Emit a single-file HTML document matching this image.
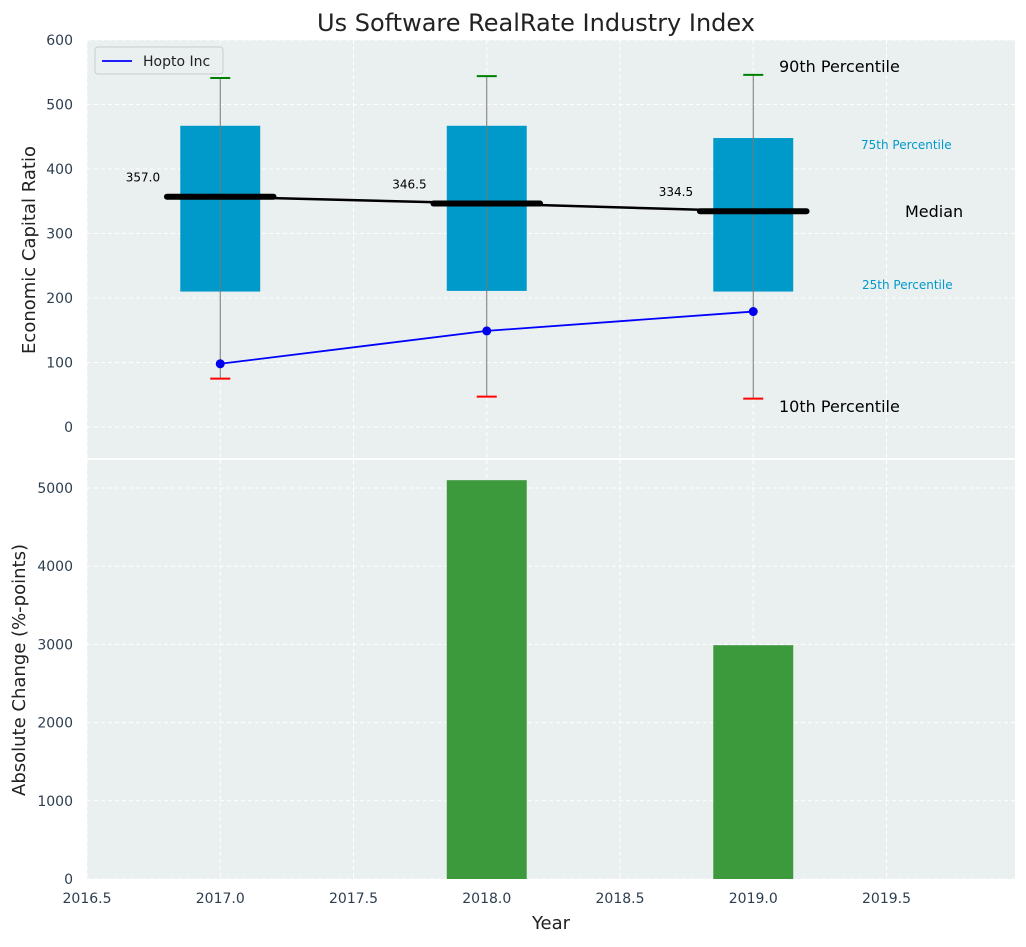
<!DOCTYPE html>
<html><head><meta charset="utf-8"><style>
body{margin:0;background:#fff;font-family:"Liberation Sans","DejaVu Sans",sans-serif}
svg text{font-family:"DejaVu Sans","Liberation Sans",sans-serif}
</style></head><body>
<svg id="c" width="1026" height="942" xmlns="http://www.w3.org/2000/svg"></svg>
<script>
const years=[2017,2018,2019];
const p10=[75,47,44];
const p25=[210,211,210];
const median=[357,346.5,334.5];
const p75=[467,467,448];
const p90=[541,544,546];
const hopto=[98,149,179];
const absChange=[0,5100,2990];
const xTicks=[2016.5,2017,2017.5,2018,2018.5,2019,2019.5];
const yTopTicks=[0,100,200,300,400,500,600];
const yBotTicks=[0,1000,2000,3000,4000,5000];

const svg=document.getElementById('c');
const NS='http://www.w3.org/2000/svg';
function mk(t,a,p){const e=document.createElementNS(NS,t);for(const k in a)e.setAttribute(k,a[k]);(p||svg).appendChild(e);return e;}
const L=87,R=1015;
const x=v=>L+(v-2016.5)*266.5;
const T0=40,T1=458,yT=v=>427-v*0.645;
const B0=460,B1=879,yB=v=>879-v*0.0782;

let e;
e=mk('rect',{x:L,y:T0,width:R-L,height:T1-T0,fill:'#eaeff0'});

e=mk('rect',{x:L,y:B0,width:R-L,height:B1-B0,fill:'#eaeff0'});


// grids
xTicks.forEach(t=>{
 mk('line',{x1:x(t),x2:x(t),y1:T0,y2:T1,stroke:'#fff','stroke-dasharray':'4 3'});
 mk('line',{x1:x(t),x2:x(t),y1:B0,y2:B1,stroke:'#fff','stroke-dasharray':'4 3'});
 e=mk('text',{x:x(t),y:903,'text-anchor':'middle','font-size':14,fill:'#2d3e50'});e.textContent=t.toFixed(1);
 
});
yTopTicks.forEach(t=>{
 mk('line',{x1:L,x2:R,y1:yT(t),y2:yT(t),stroke:'#fff','stroke-dasharray':'4 3'});
 e=mk('text',{x:L-14,y:yT(t)+5,'text-anchor':'end','font-size':14,fill:'#2d3e50'});e.textContent=t;
 
});
yBotTicks.forEach(t=>{
 mk('line',{x1:L,x2:R,y1:yB(t),y2:yB(t),stroke:'#fff','stroke-dasharray':'4 3'});
 e=mk('text',{x:L-14,y:yB(t)+5,'text-anchor':'end','font-size':14,fill:'#2d3e50'});e.textContent=t;
 
});

// boxes
years.forEach((yr,i)=>{
 e=mk('rect',{x:x(yr-0.15),y:yT(p75[i]),width:x(yr+0.15)-x(yr-0.15),height:yT(p25[i])-yT(p75[i]),fill:'#009aca'});
 
 e=mk('line',{x1:x(yr),x2:x(yr),y1:yT(p90[i]),y2:yT(p10[i]),stroke:'#777','stroke-width':1});
 
 e=mk('line',{x1:x(yr)-10,x2:x(yr)+10,y1:yT(p90[i]),y2:yT(p90[i]),stroke:'green','stroke-width':2});
 
 e=mk('line',{x1:x(yr)-10,x2:x(yr)+10,y1:yT(p10[i]),y2:yT(p10[i]),stroke:'red','stroke-width':2});
 
});
e=mk('polyline',{points:years.map((yr,i)=>x(yr)+','+yT(median[i])).join(' '),fill:'none',stroke:'#000','stroke-width':2.5});

years.forEach((yr,i)=>{
 e=mk('line',{x1:x(yr-0.2),x2:x(yr+0.2),y1:yT(median[i]),y2:yT(median[i]),stroke:'#000','stroke-width':6,'stroke-linecap':'round'});
 
 e=mk('text',{x:x(yr-0.29),y:yT(median[i])-15,'text-anchor':'middle','font-size':12,fill:'#000'});e.textContent=median[i].toFixed(1);
 
});
e=mk('polyline',{points:years.map((yr,i)=>x(yr)+','+yT(hopto[i])).join(' '),fill:'none',stroke:'#0000ff','stroke-width':1.8});

years.forEach((yr,i)=>{e=mk('circle',{cx:x(yr),cy:yT(hopto[i]),r:4.5,fill:'#0000ee'});
 });

// annotations
const ann=[[779,72,'90th Percentile',16,'#000'],[861,149,'75th Percentile',12,'#009aca'],[905,217,'Median',16,'#000'],[862,289,'25th Percentile',12,'#009aca'],[779,412,'10th Percentile',16,'#000']];
ann.forEach(a=>{e=mk('text',{x:a[0],y:a[1],'font-size':a[3],fill:a[4]});e.textContent=a[2];
 });

// legend
e=mk('rect',{x:95,y:47,width:128,height:27,rx:3,fill:'#eaeff0',stroke:'#ccc'});

mk('line',{x1:102,x2:132,y1:61,y2:61,stroke:'#0000ff','stroke-width':1.8});
e=mk('text',{x:143,y:66,'font-size':14,fill:'#222'});e.textContent='Hopto Inc';


// bottom bars
years.forEach((yr,i)=>{
 e=mk('rect',{x:x(yr-0.15),y:yB(absChange[i]),width:x(yr+0.15)-x(yr-0.15),height:yB(0)-yB(absChange[i]),fill:'#3c9a3c'});
 
});

// titles
e=mk('text',{x:536,y:31,'text-anchor':'middle','font-size':24,fill:'#222'});e.textContent='Us Software RealRate Industry Index';

e=mk('text',{x:551,y:929,'text-anchor':'middle','font-size':18,fill:'#222'});e.textContent='Year';

e=mk('text',{x:35,y:250,'text-anchor':'middle','font-size':18,fill:'#222',transform:'rotate(-90 35 250)'});e.textContent='Economic Capital Ratio';

e=mk('text',{x:25,y:670,'text-anchor':'middle','font-size':18,fill:'#222',transform:'rotate(-90 25 670)'});e.textContent='Absolute Change (%-points)';

</script>
</body></html>
